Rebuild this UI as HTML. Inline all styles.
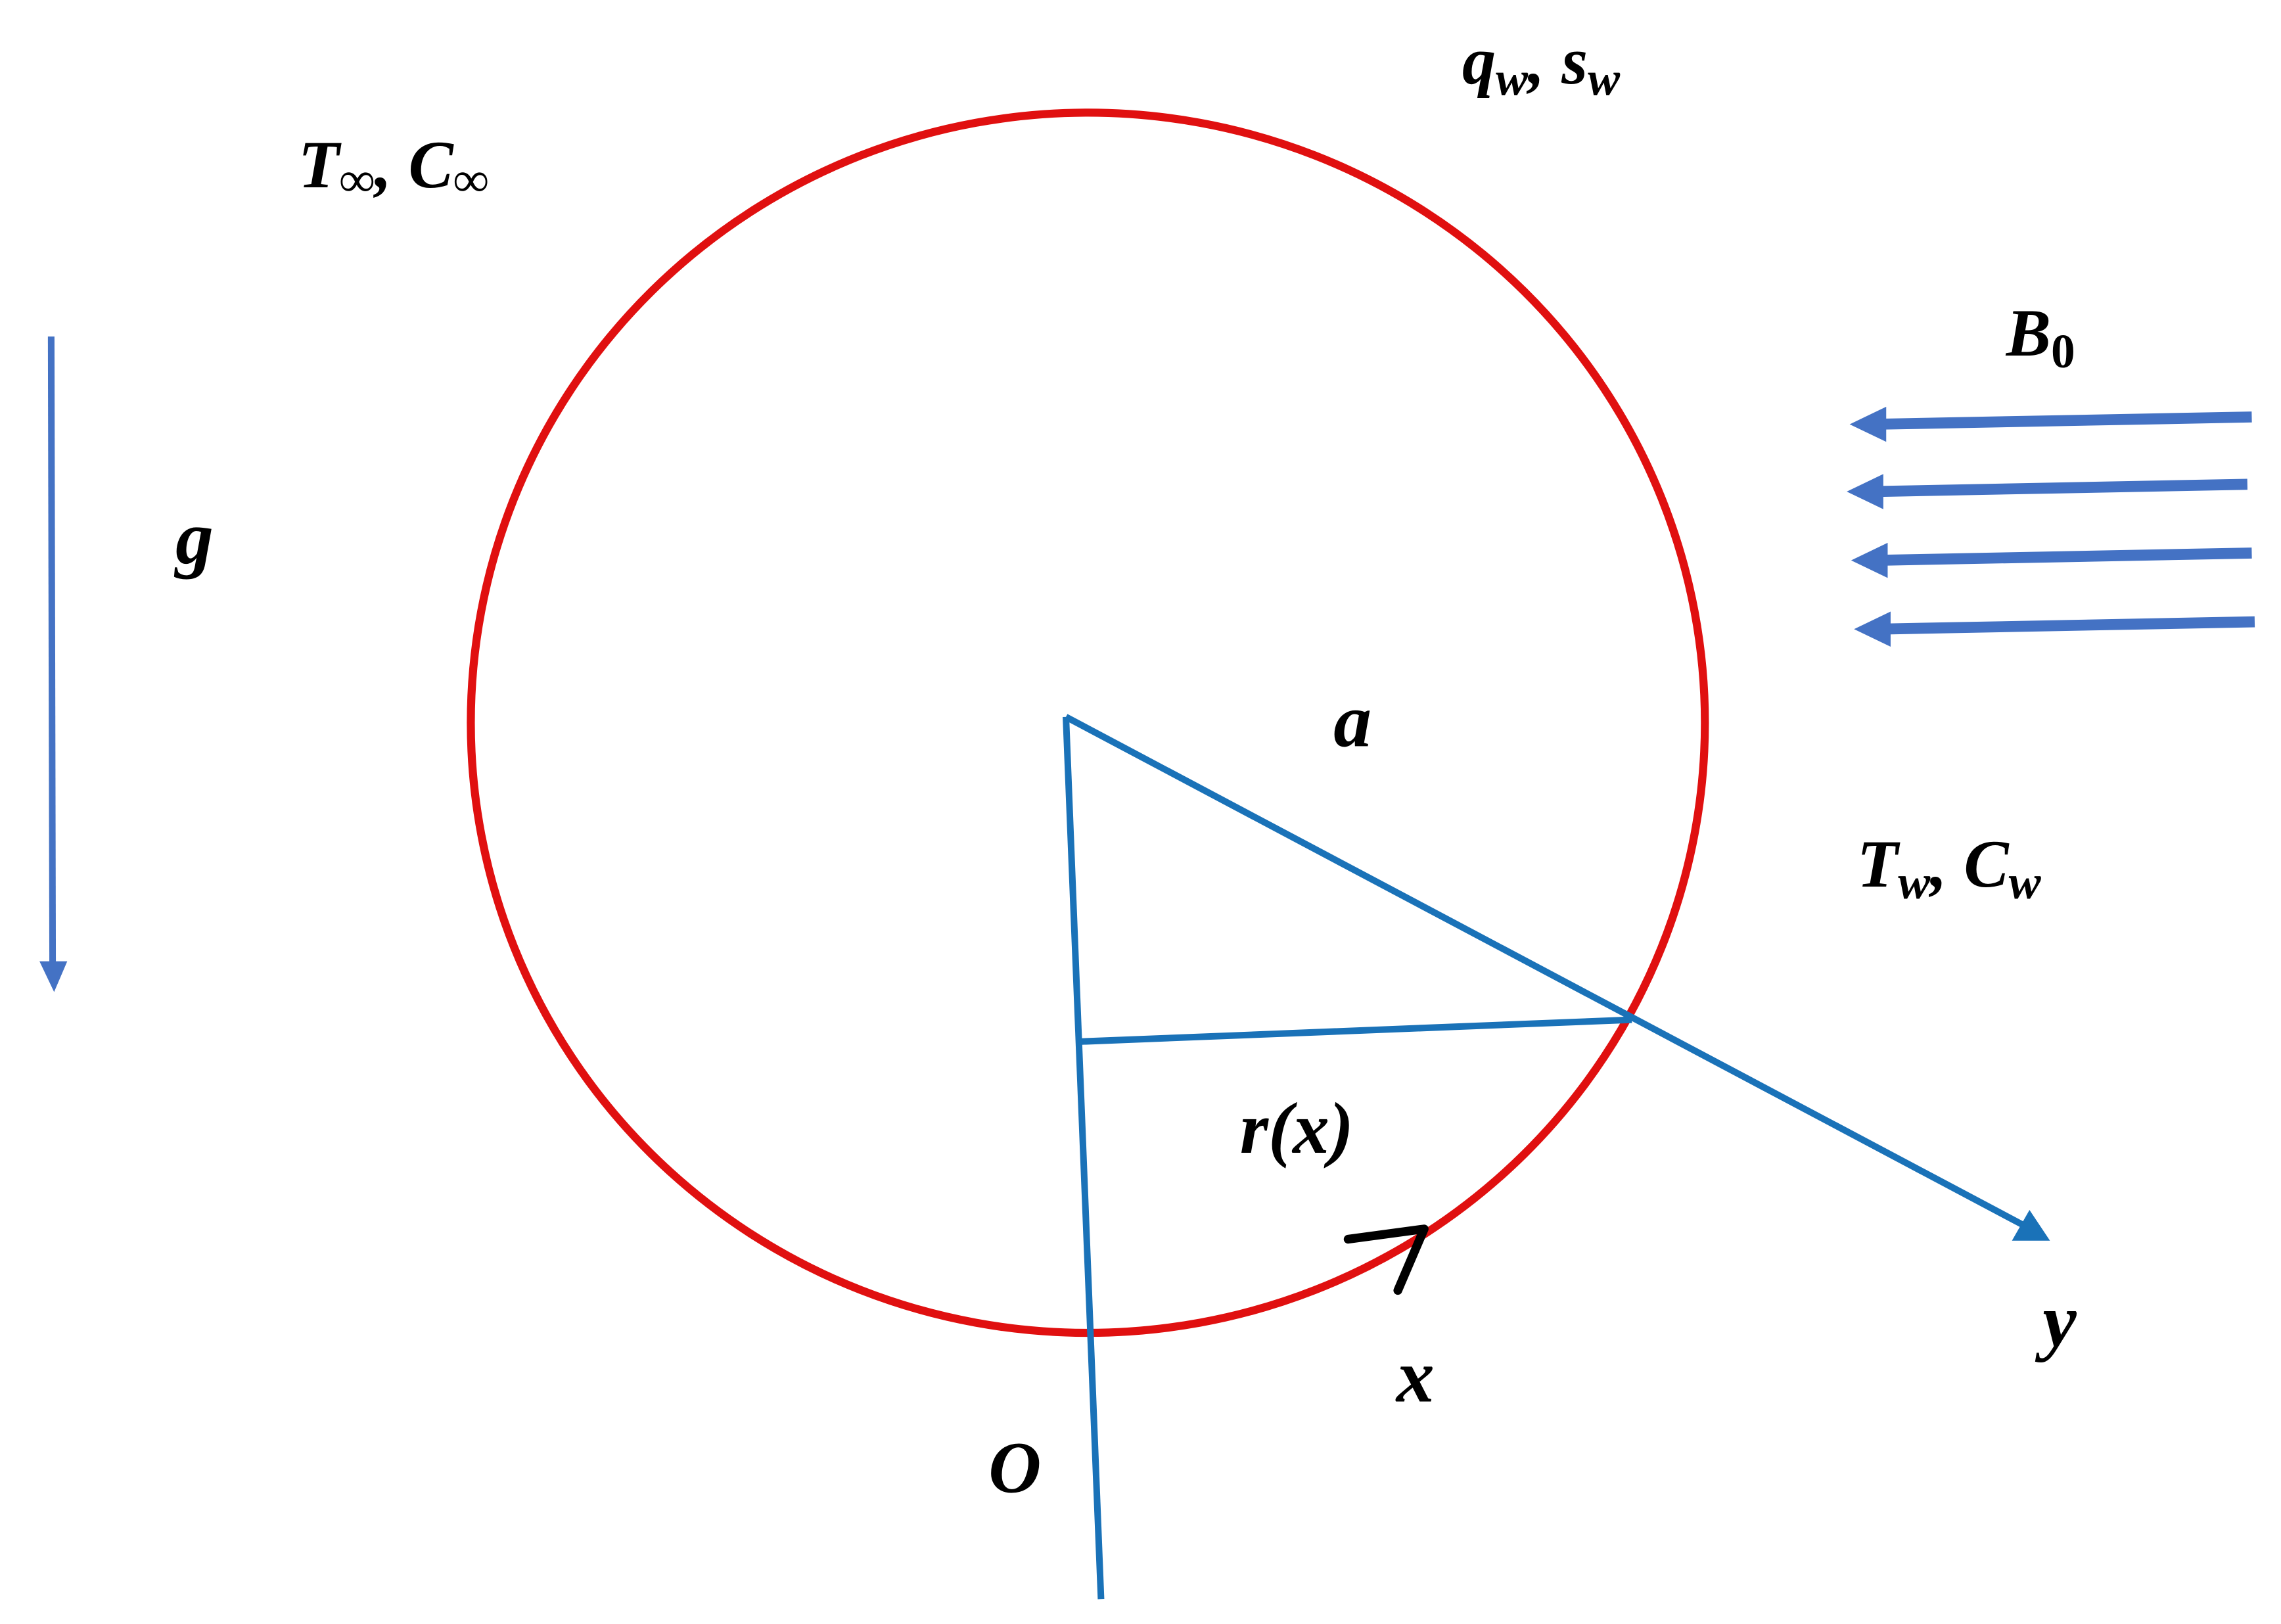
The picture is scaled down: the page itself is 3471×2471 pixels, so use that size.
<!DOCTYPE html>
<html><head><meta charset="utf-8"><style>
html,body{margin:0;padding:0;background:#fff;}
svg{display:block;}
text{font-family:"Liberation Serif","DejaVu Serif",serif;font-weight:bold;font-style:italic;fill:#000;}
</style></head><body>
<svg width="3471" height="2471" viewBox="0 0 1560 1110" preserveAspectRatio="none" xmlns="http://www.w3.org/2000/svg">
<!-- circle -->
<ellipse cx="744" cy="494" rx="422" ry="417" fill="none" stroke="#e01010" stroke-width="5.5"/>
<!-- blue geometry -->
<g stroke="#1a72b8" stroke-width="4.5" fill="none">
<line x1="729" y1="490" x2="1385" y2="838"/>
<line x1="729" y1="490" x2="753" y2="1093"/>
<line x1="737" y1="712" x2="1116" y2="697"/>
</g>
<polygon points="1402,848 1376,848 1388,827" fill="#1a72b8"/>
<!-- g arrow -->
<line x1="35" y1="230" x2="36" y2="665" stroke="#4472c4" stroke-width="4.5"/>
<polygon points="27,657 46,657 37,678" fill="#4472c4"/>
<!-- B0 arrows -->
<g stroke="#4472c4" stroke-width="7.5">
<line x1="1540" y1="285" x2="1282" y2="290"/>
<line x1="1537" y1="331" x2="1280" y2="336"/>
<line x1="1540" y1="378" x2="1283" y2="383"/>
<line x1="1542" y1="425" x2="1285" y2="430"/>
</g>
<g fill="#4472c4">
<polygon points="1265,290 1290,278 1290,302"/>
<polygon points="1263,336 1288,324 1288,348"/>
<polygon points="1266,383 1291,371 1291,395"/>
<polygon points="1268,430 1293,418 1293,442"/>
</g>
<!-- black arrow -->
<polyline points="922,847 974,840 956,882" fill="none" stroke="#000" stroke-width="6" stroke-linecap="round" stroke-linejoin="round"/>
<!-- labels -->
<text x="1000" y="57" font-size="46">q<tspan font-size="33" dy="8">w</tspan><tspan dy="-8">, s</tspan><tspan font-size="33" dy="8">w</tspan></text>
<text x="204" y="128" font-size="46">T<tspan font-size="34" dy="6" font-style="normal">∞</tspan><tspan dy="-6">, C</tspan><tspan font-size="34" dy="6" font-style="normal">∞</tspan></text>
<text x="1372" y="243" font-size="46">B<tspan font-size="33" dy="8" font-style="normal">0</tspan></text>
<text x="120" y="385" font-size="52">g</text>
<text x="912" y="510" font-size="52">a</text>
<text x="1270" y="606" font-size="46">T<tspan font-size="33" dy="8">w</tspan><tspan dy="-8">, C</tspan><tspan font-size="33" dy="8">w</tspan></text>
<text x="848" y="788" font-size="50">r(x)</text>
<text x="955" y="958" font-size="52">x</text>
<text x="1397" y="920" font-size="52">y</text>
<text x="676" y="1020" font-size="50">O</text>
</svg>
</body></html>
